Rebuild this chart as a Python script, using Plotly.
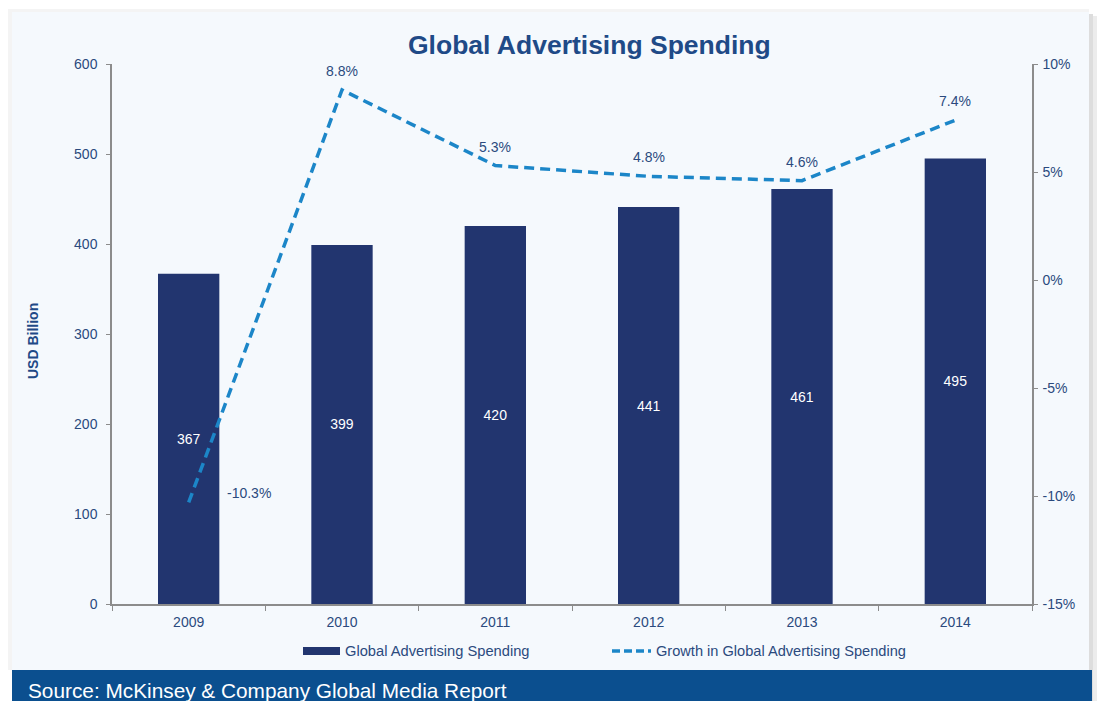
import plotly.graph_objects as go

# Data
years = ["2009", "2010", "2011", "2012", "2013", "2014"]
spending = [367, 399, 420, 441, 461, 495]          # USD billion
growth = [-10.3, 8.8, 5.3, 4.8, 4.6, 7.4]          # percent
growth_ticks = [-15, -10, -5, 0, 5, 10]
growth_tick_text = ["-15%", "-10%", "-5%", "0%", "5%", "10%"]

W, H = 1097, 701
L, R, T, B = 112, 1032, 64, 604   # plot area in pixels


def px(x):
    return (x - L) / (R - L)


def py(y):
    return (B - y) / (B - T)


NAVY = "#22356f"
LINE_BLUE = "#1c86c8"
TEXT = "#2b4a7e"
TITLE = "#1f4a87"
BAND = "#0b4f8f"
FONT = "Liberation Sans, Arial, sans-serif"

fig = go.Figure()

fig.add_trace(go.Bar(
    x=years, y=spending, width=0.4,
    marker=dict(color=NAVY, line=dict(width=0)),
    text=[str(v) for v in spending], textposition="inside",
    insidetextanchor="middle",
    textfont=dict(color="white", size=14, family=FONT),
    name="Global Advertising Spending", showlegend=False,
))

fig.add_trace(go.Scatter(
    x=years, y=growth, yaxis="y2", mode="lines",
    line=dict(color=LINE_BLUE, width=3.5, dash="10px,6px"),
    name="Growth in Global Advertising Spending", showlegend=False,
))

annotations = []
for i, g in enumerate(growth):
    label = f"{g:.1f}%"
    if g < 0:
        annotations.append(dict(x=i, y=g, xref="x", yref="y2", text=label,
                                showarrow=False, xanchor="left", yanchor="middle",
                                xshift=36, yshift=9,
                                font=dict(size=14, color=TEXT, family=FONT)))
    else:
        annotations.append(dict(x=i, y=g, xref="x", yref="y2", text=label,
                                showarrow=False, xanchor="center", yanchor="middle",
                                yshift=19,
                                font=dict(size=14, color=TEXT, family=FONT)))


def note(x, y, text, size, color, xanchor="center", angle=0):
    return dict(x=px(x), y=py(y), xref="paper", yref="paper", text=text,
                showarrow=False, xanchor=xanchor, yanchor="middle", textangle=angle,
                font=dict(size=size, color=color, family=FONT))


annotations += [
    note(589, 45, "<b>Global Advertising Spending</b>", 26.5, TITLE),
    note(33, 341, "<b>USD Billion</b>", 14, TITLE, angle=-90),
    note(343, 651, "Global Advertising Spending", 14.7, TEXT, xanchor="left"),
    note(654, 651, "Growth in Global Advertising Spending", 14.6, TEXT, xanchor="left"),
    note(26, 690, "Source: McKinsey &amp; Company Global Media Report", 20.8, "white", xanchor="left"),
]

shapes = [
    # soft shadow around the panel
    dict(type="rect", xref="paper", yref="paper", x0=px(1089), x1=px(1097), y0=py(701), y1=py(16),
         fillcolor="#ececec", line=dict(width=0), layer="below"),
    dict(type="rect", xref="paper", yref="paper", x0=px(1089), x1=px(1093), y0=py(701), y1=py(14),
         fillcolor="#dddddd", line=dict(width=0), layer="below"),
    dict(type="rect", xref="paper", yref="paper", x0=px(8), x1=px(1089), y0=py(670), y1=py(9),
         fillcolor="#f4f4f4", line=dict(width=0), layer="below"),
    # chart panel
    dict(type="rect", xref="paper", yref="paper", x0=px(12), x1=px(1089), y0=py(670), y1=py(12),
         fillcolor="#f5f9fd", line=dict(width=0), layer="below"),
    # source band
    dict(type="rect", xref="paper", yref="paper", x0=px(12), x1=px(1092), y0=py(701), y1=py(670),
         fillcolor=BAND, line=dict(width=0), layer="below"),
    # legend swatches
    dict(type="rect", xref="paper", yref="paper", x0=px(303), x1=px(340), y0=py(655), y1=py(647),
         fillcolor=NAVY, line=dict(width=0)),
    dict(type="line", xref="paper", yref="paper", x0=px(612), x1=px(651), y0=py(651), y1=py(651),
         line=dict(color=LINE_BLUE, width=3.5, dash="8px,4px")),
]

axis_font = dict(size=14, color=TEXT, family=FONT)

fig.update_layout(
    width=W, height=H,
    margin=dict(l=L, r=W - R, t=T, b=H - B, pad=0),
    paper_bgcolor="white", plot_bgcolor="rgba(0,0,0,0)",
    showlegend=False,
    xaxis=dict(
        type="category", range=[-0.5, 5.5], showgrid=False, zeroline=False,
        showline=True, linecolor="#8c8c8c", linewidth=1.5,
        ticks="outside", ticklen=5, tickcolor="#8c8c8c", tickson="boundaries",
        tickfont=axis_font, tickangle=0, ticklabelstandoff=4,
    ),
    yaxis=dict(
        range=[0, 600], dtick=100, showgrid=False, zeroline=False,
        showline=True, linecolor="#8c8c8c", linewidth=1.5,
        ticks="outside", ticklen=4, tickcolor="#8c8c8c",
        tickfont=axis_font, ticklabelstandoff=6,
    ),
    yaxis2=dict(
        range=[-15, 10], tickvals=growth_ticks, ticktext=growth_tick_text,
        overlaying="y", side="right",
        showgrid=False, zeroline=False,
        showline=True, linecolor="#8c8c8c", linewidth=1.5,
        ticks="outside", ticklen=4, tickcolor="#8c8c8c",
        tickfont=axis_font, ticklabelstandoff=2,
    ),
    annotations=annotations,
    shapes=shapes,
)

fig.write_html("out.html")
